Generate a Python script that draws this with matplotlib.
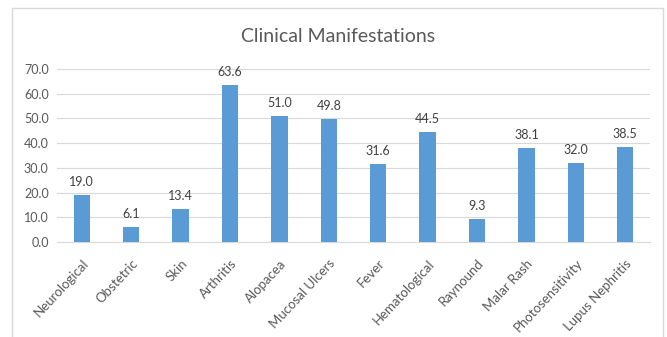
import matplotlib
matplotlib.use("Agg")
import matplotlib.pyplot as plt
from matplotlib.patches import Rectangle

categories = ["Neurological", "Obstetric", "Skin", "Arthritis", "Alopacea", "Mucosal Ulcers",
              "Fever", "Hematological", "Raynound", "Malar Rash", "Photosensitivity", "Lupus Nephritis"]
values = [19.0, 6.1, 13.4, 63.6, 51.0, 49.8, 31.6, 44.5, 9.3, 38.1, 32.0, 38.5]
yticks = [0, 10, 20, 30, 40, 50, 60, 70]

plt.rcParams['font.family'] = ['Lato', 'DejaVu Sans']
W, H = 667, 337
fig = plt.figure(figsize=(W/100, H/100), dpi=100)
fig.patch.set_facecolor("white")

# outer chart frame
fig.add_artist(Rectangle((12/W, -0.05), (663-12)/W, 1.05 - 8/H, transform=fig.transFigure,
                         fill=False, edgecolor="#d9d9d9", linewidth=1))

ax = fig.add_axes([57/W, 1-242/H, (650-57)/W, (242-69)/H])
x = list(range(len(categories)))
ax.bar(x, values, width=0.33, color="#5B9BD5", zorder=3)
ax.set_xlim(-0.5, len(categories)-0.5)
ax.set_ylim(0, 70)
ax.set_yticks(yticks)
ax.set_yticklabels([f"{v:.1f}" for v in yticks], color="#595959", fontsize=9)
ax.set_xticks(x)
ax.set_xticklabels(categories, rotation=47, ha="right", rotation_mode="anchor",
                   color="#595959", fontsize=9.5)
ax.tick_params(length=0, pad=6)
ax.tick_params(axis="x", pad=11)
ax.grid(axis="y", color="#d9d9d9", linewidth=0.8, zorder=0)
for s in ["top", "right", "left"]:
    ax.spines[s].set_visible(False)
ax.spines["bottom"].set_color("#d9d9d9")
for xi, v in zip(x, values):
    ax.annotate(f"{v:.1f}", (xi, v), xytext=(0, 5), textcoords="offset points",
                ha="center", va="bottom", color="#404040", fontsize=9)

fig.text(338/W, 1-37/H, "Clinical Manifestations", ha="center", va="center",
         fontsize=14, color="#595959")

fig.savefig("out.png", dpi=100)
